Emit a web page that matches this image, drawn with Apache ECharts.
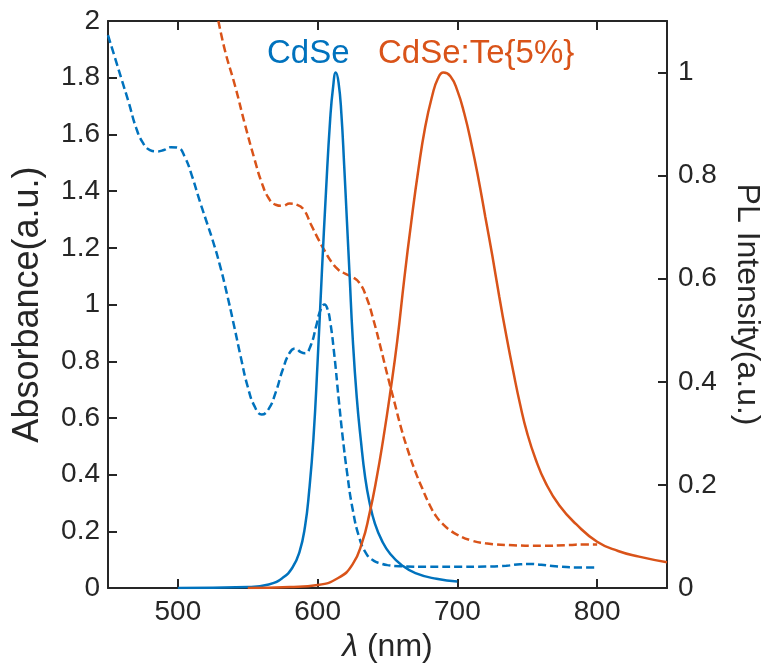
<!DOCTYPE html>
<html>
<head>
<meta charset="utf-8">
<script src="https://cdn.jsdelivr.net/npm/echarts@6/dist/echarts.min.js"></script>
<style>html,body{margin:0;padding:0;background:#fff;overflow:hidden}#c{width:771px;height:668px}</style>
</head>
<body>
<div id="c"></div>
<script>
// ---- data ----
const xTicks = [500, 600, 700, 800];

const cdseAbsX = [450,455,460,465,470,475,480,485,490,495,500,505,510,515,520,525,530,535,540,545,550,555,560,565,570,575,580,584,588,591,595,599,602,605,607,609,612,615,618,621,625,630,635,640,645,650,660,680,700,720,735,745,752,760,770,785,800];
const cdseAbsY = [1.95,1.87,1.79,1.71,1.625,1.57,1.545,1.54,1.545,1.555,1.553,1.52,1.455,1.375,1.3,1.225,1.14,1.04,0.93,0.815,0.71,0.64,0.612,0.632,0.69,0.77,0.83,0.845,0.832,0.828,0.855,0.925,0.98,1.0,0.985,0.94,0.82,0.67,0.53,0.41,0.28,0.175,0.12,0.097,0.087,0.081,0.077,0.075,0.075,0.076,0.079,0.084,0.085,0.082,0.077,0.073,0.073];

const teAbsX = [529,534,541,548,555,560,565,570,575,580,585,590,595,600,605,610,615,620,625,630,635,640,645,650,655,660,665,670,675,680,685,690,695,700,710,720,740,760,780,790,800];
const teAbsY = [2.0,1.89,1.77,1.635,1.51,1.43,1.375,1.352,1.348,1.356,1.352,1.335,1.285,1.235,1.19,1.15,1.122,1.108,1.097,1.076,1.025,0.945,0.85,0.75,0.655,0.56,0.48,0.41,0.35,0.295,0.252,0.224,0.203,0.188,0.168,0.158,0.151,0.149,0.152,0.154,0.154];

const cdsePlX = [500,550,565,575,582,587,591,594,597,600,603,606,609,611,613,615,617,619,621,623,625,628,631,634,637,641,646,652,660,670,685,700];
const cdsePlY = [0,0.002,0.007,0.02,0.04,0.07,0.12,0.19,0.29,0.44,0.61,0.77,0.91,0.97,1.0,0.98,0.92,0.82,0.71,0.6,0.49,0.37,0.285,0.215,0.168,0.125,0.092,0.066,0.045,0.029,0.018,0.013];

const tePlX = [550,580,600,615,625,632,637,642,647,652,657,662,667,672,677,682,686,690,695,700,705,710,715,720,725,730,735,740,745,750,756,763,773,785,800,815,830,850];
const tePlY = [0,0.002,0.006,0.02,0.046,0.09,0.143,0.21,0.29,0.38,0.48,0.6,0.71,0.81,0.895,0.955,0.988,1.0,0.993,0.965,0.92,0.862,0.795,0.72,0.645,0.565,0.49,0.42,0.355,0.3,0.25,0.205,0.16,0.124,0.09,0.072,0.061,0.05];

const labels = ['CdSe', 'CdSe:Te{5%}'];
// ---- chart ----
const BLUE = '#0072BD', RED = '#D95319', AX = '#262626';
const FONT = 'Liberation Sans, Arial, Helvetica, sans-serif';
const zip = (xs, ys) => xs.map((x, i) => [x, ys[i]]);

const chart = echarts.init(document.getElementById('c'));
const mkLine = () => ({show: true, onZero: false, lineStyle: {color: AX, width: 2}});
const mkTick = (extra) => Object.assign({show: true, inside: true, length: 9, lineStyle: {color: AX, width: 2}}, extra || {});
const lineSeries = (data, yi, color, dashed) => ({
  type: 'line', yAxisIndex: yi, data, showSymbol: false, smooth: 0.5,
  lineStyle: {color, width: 2.5, type: dashed ? [8, 4] : 'solid'}
});
chart.setOption({
  animation: false,
  backgroundColor: '#fff',
  grid: {left: 108, right: 99, top: 21, bottom: 72},
  xAxis: [{
    type: 'value', min: 450, max: 850, position: 'bottom',
    axisLine: mkLine(), axisTick: mkTick({customValues: xTicks}),
    axisLabel: {customValues: xTicks, fontSize: 28, fontFamily: FONT, color: AX, margin: 10},
    splitLine: {show: false},
    name: '{i|λ} (nm)', nameLocation: 'middle', nameGap: 42,
    nameTextStyle: {fontSize: 32, fontFamily: FONT, color: AX, rich: {i: {fontSize: 32, fontFamily: FONT, fontStyle: 'italic', color: AX}}}
  }, {
    type: 'value', min: 450, max: 850, position: 'top',
    axisLine: mkLine(), axisTick: mkTick({customValues: xTicks}),
    axisLabel: {show: false}, splitLine: {show: false}
  }],
  yAxis: [{
    type: 'value', min: 0, max: 2, interval: 0.2, position: 'left',
    axisLine: mkLine(), axisTick: mkTick(),
    axisLabel: {fontSize: 28, fontFamily: FONT, color: AX, margin: 8},
    splitLine: {show: false},
    name: 'Absorbance(a.u.)', nameLocation: 'middle', nameGap: 62,
    nameTextStyle: {fontSize: 36, fontFamily: FONT, color: AX}
  }, {
    type: 'value', min: 0, max: 1.1, interval: 0.2, position: 'right',
    axisLine: mkLine(), axisTick: mkTick(),
    axisLabel: {fontSize: 28, fontFamily: FONT, color: AX, margin: 11, showMaxLabel: false},
    splitLine: {show: false},
    name: 'PL Intensity(a.u.)', nameLocation: 'middle', nameGap: 64, nameRotate: -90,
    nameTextStyle: {fontSize: 32, fontFamily: FONT, color: AX}
  }],
  series: [
    lineSeries(zip(cdseAbsX, cdseAbsY), 0, BLUE, true),
    lineSeries(zip(teAbsX, teAbsY), 0, RED, true),
    lineSeries(zip(cdsePlX, cdsePlY), 1, BLUE, false),
    lineSeries(zip(tePlX, tePlY), 1, RED, false)
  ],
  graphic: [
    {type: 'text', left: 267, top: 37, style: {text: labels[0], fontSize: 33, fontFamily: FONT, fill: BLUE}},
    {type: 'text', left: 378, top: 37, style: {text: labels[1], fontSize: 33, fontFamily: FONT, fill: RED}}
  ]
});
</script>
</body>
</html>
